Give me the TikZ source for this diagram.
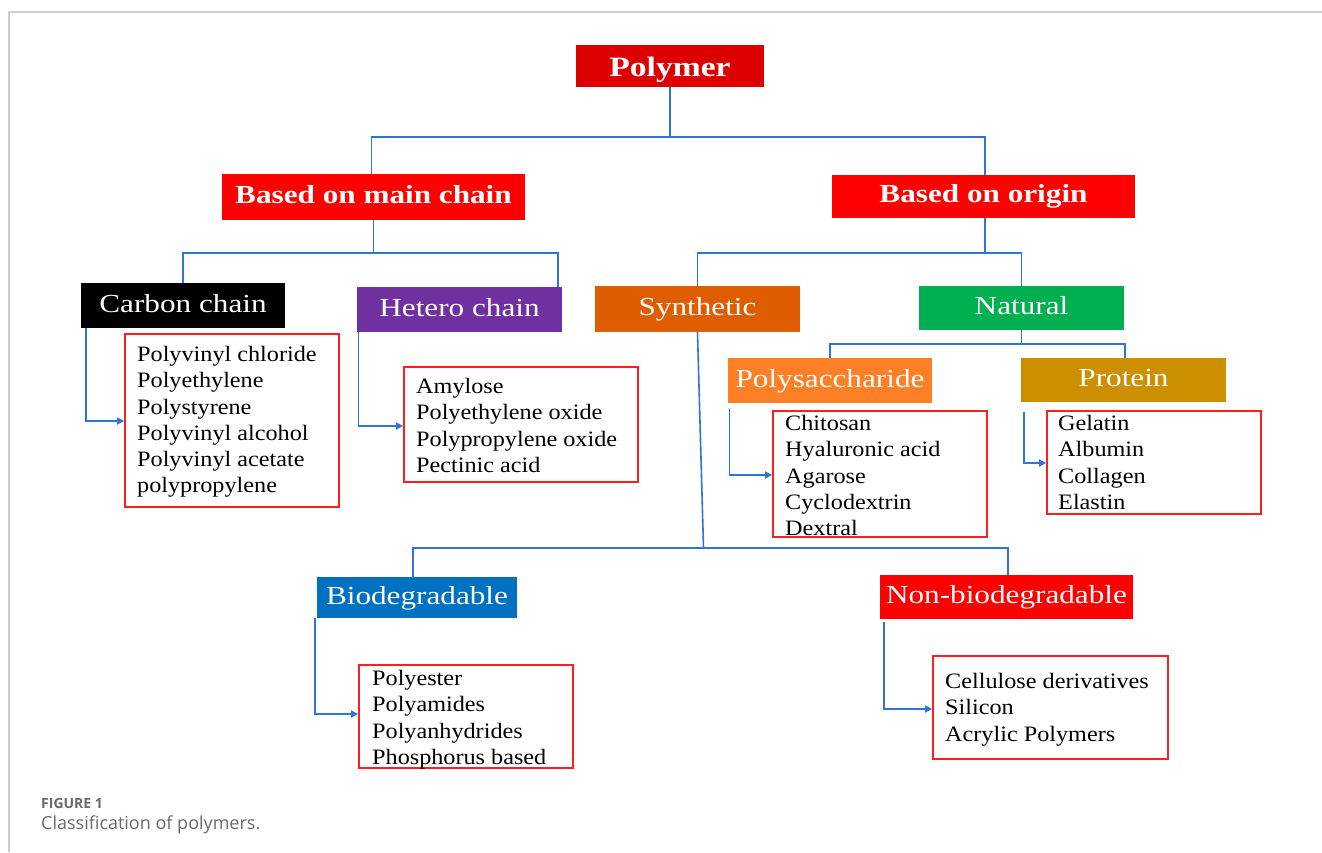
\documentclass[tikz,border=0pt]{standalone}
\usepackage{fontspec}
\setmainfont{Liberation Serif}
\newfontfamily\titlefont{Liberation Serif}[FakeStretch=1.2]
\newfontfamily\listfont{Liberation Serif}[FakeStretch=1.1]
\newfontfamily\capfont{Open Sans}
\usetikzlibrary{arrows.meta,calc}

\definecolor{linkblue}{HTML}{2F75D6}
\definecolor{listred}{HTML}{FF1F1F}
\definecolor{rootred}{HTML}{DD0000}
\definecolor{brightred}{HTML}{FF0000}
\definecolor{heteropurple}{HTML}{7030A0}
\definecolor{synthorange}{HTML}{E05C00}
\definecolor{naturalgreen}{HTML}{00B050}
\definecolor{sugarorange}{HTML}{FF7F27}
\definecolor{proteingold}{HTML}{CC8F00}
\definecolor{biodegblue}{HTML}{0070C0}
\definecolor{framegray}{HTML}{CCCCCC}
\definecolor{capgray}{HTML}{6A6A6A}

\tikzset{
  conn/.style={draw=linkblue, line width=1.6pt},
  arr/.style={conn, -{Triangle[length=7pt,width=7pt]}},
  head/.style={fill=#1, text=white, inner sep=0pt, text height=18pt, text depth=5pt,
    font=\titlefont\fontsize{26}{28}\selectfont},
  boldhead/.style={head=#1, text depth=6pt, font=\titlefont\bfseries\fontsize{26}{28}\selectfont},
  listbox/.style={draw=listred, line width=1.8pt, fill=white, inner sep=0pt},
  listtext/.style={anchor=north west, inner sep=0pt, align=left,
    font=\listfont\fontsize{22}{26.3}\selectfont},
}

\begin{document}
\begin{tikzpicture}[x=1pt, y=-1pt]
\useasboundingbox (0,0) rectangle (1322,852);
\fill[white] (0,0) rectangle (1322,852);

% page frame
\draw[framegray, line width=1.5pt] (1322,12) -- (9,12) -- (9,852);

% heading boxes
\node[boldhead=rootred, minimum width=188pt, minimum height=42pt, text height=20pt, text depth=0pt,
      font=\titlefont\bfseries\fontsize{28}{30}\selectfont] (polymer) at (670,66) {Polymer};
\node[boldhead=brightred, minimum width=303pt, minimum height=46pt] (mainchain) at (373.5,197) {Based on main chain};
\node[boldhead=brightred, minimum width=303pt, minimum height=43pt] (origin) at (983.5,196.5) {Based on origin};

\node[head=black, minimum width=204pt, minimum height=45pt] (carbon) at (183,305.5) {Carbon chain};
\node[head=heteropurple, minimum width=205pt, minimum height=45pt] (hetero) at (459.5,309.5) {Hetero chain};
\node[head=synthorange, minimum width=205pt, minimum height=46pt] (synthetic) at (697.5,309) {Synthetic};
\node[head=naturalgreen, minimum width=205pt, minimum height=44pt] (natural) at (1021.5,308) {Natural};
\node[head=sugarorange, minimum width=204pt, minimum height=45pt] (polysacch) at (830,380.5) {Polysaccharide};
\node[head=proteingold, minimum width=205pt, minimum height=44pt] (protein) at (1123.5,380) {Protein};
\node[head=biodegblue, minimum width=200pt, minimum height=41pt] (biodeg) at (417,597.5) {Biodegradable};
\node[head=brightred, minimum width=253pt, minimum height=44pt] (nonbio) at (1006.5,597) {Non-biodegradable};

% tree connectors
\draw[conn] (polymer.south) -- ++(0,50) coordinate (j0);
\draw[conn] ([xshift=-2pt]mainchain.north) |- (j0) -| ([xshift=1.5pt]origin.north);

\draw[conn] (mainchain.south) -- ++(0,33) coordinate (j1);
\draw[conn] (carbon.north) |- (j1) -| ([xshift=-4pt]hetero.north east);

\draw[conn] ([xshift=1.5pt]origin.south) -- ++(0,35) coordinate (j2);
\draw[conn] (synthetic.north) |- (j2) -| (natural.north);

\draw[conn] (natural.south) -- ++(0,14) coordinate (j3);
\draw[conn] (polysacch.north) |- (j3) -| ([xshift=1.5pt]protein.north);

\draw[conn] (synthetic.south) -- ++(6,216) coordinate (j4);
\draw[conn] ([xshift=-4pt]biodeg.north) |- (j4) -| ([xshift=1.5pt]nonbio.north);

% member lists
\node[listbox, minimum width=214pt, minimum height=173pt] (carbonlist) at (232,420.5) {};
\node[listtext] (carbonitems) at (137,346) {Polyvinyl chloride\\Polyethylene\\Polystyrene\\Polyvinyl alcohol\\Polyvinyl acetate\\polypropylene};

\node[listbox, minimum width=234pt, minimum height=115pt] (heterolist) at (521,424.5) {};
\node[listtext] (heteroitems) at (416,378) {Amylose\\Polyethylene oxide\\Polypropylene oxide\\Pectinic acid};

\node[listbox, minimum width=214pt, minimum height=126pt] (sugarlist) at (880,474) {};
\node[listtext] (sugaritems) at (785,415) {Chitosan\\Hyaluronic acid\\Agarose\\Cyclodextrin\\Dextral};

\node[listbox, minimum width=214pt, minimum height=103pt] (proteinlist) at (1154,462.5) {};
\node[listtext] (proteinitems) at (1058,415) {Gelatin\\Albumin\\Collagen\\Elastin};

\node[listbox, minimum width=214pt, minimum height=103pt] (biolist) at (466,716.5) {};
\node[listtext] (bioitems) at (372,670) {Polyester\\Polyamides\\Polyanhydrides\\Phosphorus based};

\node[listbox, minimum width=235pt, minimum height=103pt] (nonbiolist) at (1050.5,707.5) {};
\node[listtext] (nonbioitems) at (945,673) {Cellulose derivatives\\Silicon\\Acrylic Polymers};

% arrows into the lists
\draw[arr] ([xshift=5pt]carbon.south west) |- (carbonlist.west |- 0,421);
\draw[arr] ([xshift=1.5pt]hetero.south west) |- (heterolist.west |- 0,426);
\draw[arr] ([xshift=1.5pt,yshift=-6pt]polysacch.south west) |- (sugarlist.west |- 0,475);
\draw[arr] ([xshift=3pt,yshift=-10pt]protein.south west) |- (proteinlist.west |- 0,463);
\draw[arr] ([xshift=-2pt]biodeg.south west) |- (biolist.west |- 0,714);
\draw[arr] ([xshift=4pt,yshift=-3pt]nonbio.south west) |- (nonbiolist.west |- 0,709);

% caption
\node[anchor=base west, inner sep=0pt, text=capgray, font=\capfont\bfseries\fontsize{14}{16}\selectfont] (figlabel) at (41,808) {FIGURE 1};
\node[anchor=base west, inner sep=0pt, text=capgray, font=\capfont\fontsize{18}{20}\selectfont] (figcaption) at (41,829) {Classification of polymers.};
\end{tikzpicture}
\end{document}
